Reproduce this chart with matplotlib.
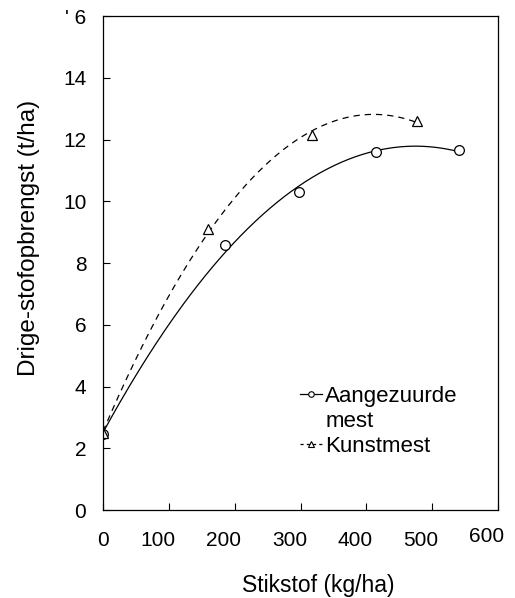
import numpy as np
import matplotlib
matplotlib.use("Agg")
import matplotlib.pyplot as plt
from matplotlib.lines import Line2D
from matplotlib.transforms import ScaledTranslation

plt.rcParams['font.family'] = ['Liberation Sans', 'DejaVu Sans']

# Aangezuurde mest (circles)
n_mest = np.array([0, 186, 297, 415, 541])
y_mest = np.array([2.45, 8.6, 10.3, 11.6, 11.66])

# Kunstmest (triangles)
n_kunst = np.array([0, 159, 318, 477])
y_kunst = np.array([2.5, 9.1, 12.15, 12.6])

x_ticks = [0, 100, 200, 300, 400, 500, 600]
y_ticks = [0, 2, 4, 6, 8, 10, 12, 14, 16]
y_ticklabels = ['0', '2', '4', '6', '8', '10', '12', '14', "' 6"]


def fitted_curve(x, y, deg=2):
    # kwadratische responscurve door de meetpunten
    c = np.polyfit(x, y, deg)
    xs = np.linspace(0, x.max(), 200)
    return xs, np.polyval(c, xs)


fig = plt.figure(figsize=(5.15, 5.98), dpi=100)
ax = fig.add_axes([0.2, 0.147, 0.767, 0.826])

xs, ys = fitted_curve(n_mest, y_mest)
ax.plot(xs, ys, color='black', lw=0.9)
xs, ys = fitted_curve(n_kunst, y_kunst)
ax.plot(xs, ys, color='black', lw=0.9, dashes=(5, 4))

ax.plot(n_mest, y_mest, 'o', mfc='white', mec='black', ms=7, mew=0.9)
ax.plot(n_kunst, y_kunst, '^', mfc='white', mec='black', ms=7, mew=0.9)

# legenda-handles; "mest" krijgt een lege handle zodat het symbool bij de eerste regel staat
h1 = Line2D([], [], marker='o', color='black', lw=0.9, ms=4,
            mfc='white', mew=0.8)
h_leeg = Line2D([], [], linestyle='none')
h2 = Line2D([], [], marker='^', color='black', lw=0.9, ms=4,
            mfc='white', mew=0.8, dashes=(2.5, 2.5))
leg = ax.legend([h1, h_leeg, h2], ['Aangezuurde', 'mest', 'Kunstmest'],
                loc='upper left', bbox_to_anchor=(0.475, 0.27),
                frameon=False, fontsize=16, handlelength=1.0,
                handletextpad=0.15, labelspacing=0.18, borderaxespad=0)

ax.set_xlim(0, 600)
ax.set_ylim(0, 16)
ax.set_xticks(x_ticks)
ax.set_yticks(y_ticks)
ax.set_yticklabels(y_ticklabels)
ax.tick_params(direction='in', length=5, width=0.8, labelsize=15)
ax.tick_params(axis='y', pad=12)
ax.tick_params(axis='x', pad=15)

# de x-labels staan in het origineel iets links van de streepjes
for i, lab in enumerate(ax.get_xticklabels()):
    if i > 0:
        dy = 3 / 72 if i == 6 else 0
        lab.set_transform(lab.get_transform() +
                          ScaledTranslation(-8 / 72, dy, fig.dpi_scale_trans))

for sp in ax.spines.values():
    sp.set_linewidth(0.9)

ax.set_xlabel('Stikstof (kg/ha)', fontsize=16.5)
ax.xaxis.set_label_coords(0.545, -0.13)
ax.set_ylabel('Drige-stofopbrengst (t/ha)', fontsize=17.5)
ax.yaxis.set_label_coords(-0.16, 0.55)

fig.savefig('out.png', dpi=100)
